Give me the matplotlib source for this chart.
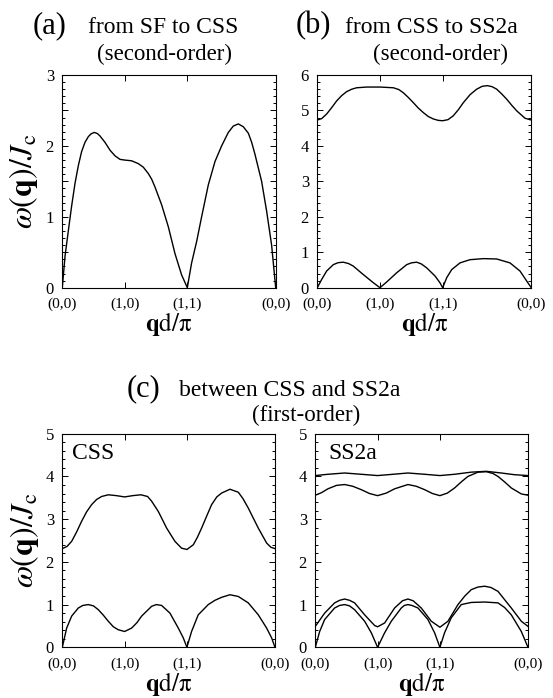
import numpy as np
import matplotlib
matplotlib.use('Agg')
import matplotlib.pyplot as plt
from matplotlib.ticker import MultipleLocator, FuncFormatter

plt.rcParams['font.family'] = ['Liberation Serif', 'DejaVu Serif']
plt.rcParams['mathtext.fontset'] = 'stix'

# path (0,0) -> (1,0) -> (1,1) -> (0,0), length along path
path_ticks = [0, 1, 2, 2 + np.sqrt(2)]
path_labels = ['(0,0)', '(1,0)', '(1,1)', '(0,0)']

# (a) SF -> CSS, second-order
a_x = [0, 0.043, 0.096, 0.149, 0.203, 0.256, 0.309, 0.363, 0.416, 0.46, 0.512, 0.56, 0.603,
       0.683, 0.763, 0.843, 0.923, 1.0, 1.109, 1.216, 1.296, 1.376, 1.43, 1.483, 1.589, 1.696,
       1.803, 1.909, 2.0, 2.069, 2.149, 2.229, 2.336, 2.443, 2.549, 2.656, 2.736, 2.816,
       2.896, 2.976, 3.03, 3.083, 3.189, 3.269, 3.349, 3.414]
a_w = [0, 0.44, 0.80, 1.15, 1.47, 1.72, 1.92, 2.05, 2.13, 2.17, 2.19, 2.175, 2.14,
       2.05, 1.94, 1.86, 1.81, 1.80, 1.79, 1.75, 1.70, 1.61, 1.53, 1.42, 1.17, 0.86,
       0.48, 0.18, 0, 0.35, 0.65, 1.00, 1.45, 1.78, 2.00, 2.19, 2.28, 2.31,
       2.27, 2.18, 2.05, 1.88, 1.50, 1.08, 0.60, 0]

# (b) CSS -> SS2a, second-order
b_up_x = [0, 0.07, 0.149, 0.23, 0.309, 0.39, 0.468, 0.55, 0.628, 0.787, 1.0, 1.213, 1.30,
          1.372, 1.45, 1.532, 1.61, 1.691, 1.77, 1.851, 1.93, 2.0, 2.085, 2.170, 2.25, 2.330,
          2.44, 2.543, 2.63, 2.713, 2.79, 2.862, 2.94, 3.021, 3.10, 3.181, 3.314, 3.414]
b_up_w = [4.73, 4.77, 4.90, 5.08, 5.27, 5.42, 5.53, 5.60, 5.64, 5.66, 5.66, 5.64, 5.59,
          5.50, 5.37, 5.22, 5.07, 4.94, 4.83, 4.76, 4.72, 4.71, 4.74, 4.85, 5.02, 5.22,
          5.45, 5.60, 5.68, 5.70, 5.67, 5.60, 5.47, 5.32, 5.15, 4.99, 4.78, 4.73]
b_lo_x = [0, 0.069, 0.149, 0.255, 0.33, 0.415, 0.50, 0.574, 0.734, 0.894, 1.0, 1.106, 1.266,
          1.426, 1.50, 1.585, 1.66, 1.745, 1.878, 1.957, 2.0, 2.064, 2.144, 2.277, 2.436,
          2.649, 2.862, 3.074, 3.234, 3.340, 3.414]
b_lo_w = [0, 0.23, 0.47, 0.65, 0.705, 0.72, 0.68, 0.61, 0.37, 0.14, 0, 0.16, 0.42,
          0.65, 0.70, 0.72, 0.67, 0.56, 0.33, 0.14, 0, 0.28, 0.51, 0.70, 0.79,
          0.82, 0.81, 0.70, 0.47, 0.19, 0]

# (c) first-order, CSS side
css_up_x = [0, 0.075, 0.150, 0.23, 0.310, 0.39, 0.471, 0.55, 0.631, 0.738, 0.87, 1.0, 1.13,
            1.262, 1.369, 1.434, 1.541, 1.675, 1.808, 1.915, 2.0, 2.103, 2.17, 2.236, 2.32,
            2.397, 2.48, 2.557, 2.691, 2.825, 2.90, 2.985, 3.146, 3.280, 3.35, 3.414]
css_up_w = [2.31, 2.36, 2.48, 2.70, 2.95, 3.17, 3.34, 3.46, 3.53, 3.57, 3.55, 3.52, 3.55,
            3.57, 3.53, 3.42, 3.18, 2.79, 2.48, 2.32, 2.29, 2.40, 2.58, 2.79, 3.08,
            3.34, 3.52, 3.61, 3.70, 3.63, 3.48, 3.26, 2.79, 2.44, 2.34, 2.31]
css_lo_x = [0, 0.070, 0.150, 0.257, 0.33, 0.417, 0.50, 0.578, 0.66, 0.738, 0.82, 0.899, 1.0,
            1.113, 1.20, 1.273, 1.434, 1.51, 1.594, 1.728, 1.862, 1.942, 2.0, 2.075, 2.182,
            2.343, 2.45, 2.557, 2.691, 2.825, 2.985, 3.146, 3.280, 3.360, 3.414]
css_lo_w = [0, 0.45, 0.73, 0.92, 0.98, 1.00, 0.97, 0.88, 0.75, 0.61, 0.48, 0.41, 0.37,
            0.45, 0.58, 0.73, 0.96, 1.00, 0.98, 0.80, 0.45, 0.22, 0, 0.37, 0.76,
            1.00, 1.10, 1.17, 1.23, 1.19, 1.04, 0.76, 0.45, 0.22, 0]

# (c) first-order, SS2a side
ss_b1_x = [0, 0.203, 0.471, 0.738, 1.0, 1.247, 1.487, 1.755, 2.0, 2.236, 2.504, 2.745, 2.985,
           3.199, 3.414]
ss_b1_w = [4.02, 4.05, 4.08, 4.05, 4.02, 4.05, 4.08, 4.05, 4.02, 4.05, 4.10, 4.12, 4.08,
           4.04, 4.02]
ss_b2_x = [0, 0.10, 0.203, 0.34, 0.471, 0.60, 0.738, 0.87, 1.0, 1.14, 1.273, 1.487, 1.62,
           1.755, 1.88, 2.0, 2.12, 2.236, 2.35, 2.450, 2.611, 2.745, 2.85, 2.932, 3.04,
           3.146, 3.307, 3.414]
ss_b2_w = [3.56, 3.62, 3.71, 3.79, 3.81, 3.77, 3.69, 3.60, 3.55, 3.61, 3.71, 3.81, 3.77,
           3.69, 3.60, 3.55, 3.61, 3.73, 3.88, 4.00, 4.10, 4.11, 4.07, 4.00, 3.87,
           3.73, 3.59, 3.56]
ss_b3_x = [0, 0.150, 0.310, 0.39, 0.471, 0.55, 0.631, 0.792, 0.952, 1.0, 1.113, 1.273, 1.40,
           1.487, 1.57, 1.701, 1.862, 2.0, 2.129, 2.290, 2.40, 2.504, 2.61, 2.718, 2.82,
           2.932, 3.146, 3.307, 3.414]
ss_b3_w = [0.49, 0.80, 1.04, 1.10, 1.13, 1.10, 1.04, 0.76, 0.51, 0.48, 0.57, 0.92, 1.09,
           1.13, 1.09, 0.92, 0.61, 0.47, 0.61, 1.00, 1.20, 1.35, 1.41, 1.43, 1.40,
           1.31, 0.92, 0.61, 0.49]
ss_b4_x = [0, 0.070, 0.150, 0.310, 0.39, 0.471, 0.55, 0.631, 0.792, 0.899, 1.0, 1.113, 1.220,
           1.380, 1.43, 1.487, 1.55, 1.648, 1.808, 1.915, 2.0, 2.075, 2.182, 2.343, 2.504,
           2.718, 2.932, 3.04, 3.146, 3.307, 3.414]
ss_b4_w = [0, 0.37, 0.65, 0.92, 0.98, 1.00, 0.97, 0.88, 0.61, 0.34, 0, 0.34, 0.61,
           0.92, 0.98, 1.00, 0.98, 0.92, 0.65, 0.34, 0, 0.34, 0.69, 1.00, 1.05,
           1.06, 1.04, 0.93, 0.76, 0.37, 0]

W, H = 553, 698
fig = plt.figure(figsize=(W / 100, H / 100), dpi=100)


def box(x0, y0, x1, y1):
    # pixel box (top-left origin) -> figure fraction rect
    return [x0 / W, 1 - y1 / H, (x1 - x0) / W, (y1 - y0) / H]


ylab = r'$\omega(\mathbf{q})/J_{\mathrm{c}}$'
xlab = r'$\mathbf{q}\mathrm{d/\pi}$'


def style(ax, ymax, major, minor, ylabel=True):
    ax.set_xlim(path_ticks[0], path_ticks[-1])
    ax.set_ylim(0, ymax)
    ax.set_xticks(path_ticks)
    ax.set_xticklabels(path_labels, fontsize=11)
    ax.yaxis.set_major_locator(MultipleLocator(major))
    ax.yaxis.set_minor_locator(MultipleLocator(minor))
    ax.yaxis.set_major_formatter(FuncFormatter(
        lambda v, p: '%d' % round(v) if abs(v - round(v)) < 1e-6 else ''))
    ax.tick_params(axis='both', which='both', direction='in', top=True, right=True,
                   width=0.7)
    ax.tick_params(axis='x', which='major', length=4, pad=7)
    ax.tick_params(axis='y', which='major', length=4, pad=6, labelsize=12)
    ax.tick_params(axis='y', which='minor', length=2)
    for s in ax.spines.values():
        s.set_linewidth(0.8)
    ax.set_xlabel(xlab, fontsize=18, va='baseline')
    ax.xaxis.set_label_coords(0.5, -0.205)
    if ylabel:
        ax.set_ylabel(ylab, fontsize=23, va='center')
        ax.yaxis.set_label_coords(-0.18, 0.5)


lw = 1.0
ax_a = fig.add_axes(box(62.3, 75, 275.7, 287.7))
ax_a.plot(a_x, a_w, color='black', lw=lw)
style(ax_a, 3, 0.5, 0.1)

ax_b = fig.add_axes(box(317.3, 75, 531.3, 287.7))
ax_b.plot(b_up_x, b_up_w, color='black', lw=lw)
ax_b.plot(b_lo_x, b_lo_w, color='black', lw=lw)
style(ax_b, 6, 1, 0.2, ylabel=False)

ax_c1 = fig.add_axes(box(62.3, 433.7, 275, 647.3))
ax_c1.plot(css_up_x, css_up_w, color='black', lw=lw)
ax_c1.plot(css_lo_x, css_lo_w, color='black', lw=lw)
style(ax_c1, 5, 1, 0.2)
ax_c1.text(0.045, 0.955, 'CSS', transform=ax_c1.transAxes, fontsize=17, va='top', ha='left')

ax_c2 = fig.add_axes(box(315.3, 433.7, 528, 647.3))
for xs, ws in [(ss_b1_x, ss_b1_w), (ss_b2_x, ss_b2_w), (ss_b3_x, ss_b3_w), (ss_b4_x, ss_b4_w)]:
    ax_c2.plot(xs, ws, color='black', lw=lw)
style(ax_c2, 5, 1, 0.2, ylabel=False)
ax_c2.text(0.062, 0.955, 'SS2a', transform=ax_c2.transAxes, fontsize=17, va='top', ha='left')


def ftext(px, py, s, **kw):
    fig.text(px / W, 1 - py / H, s, **kw)


# panel headings
ftext(33, 33, '(a)', fontsize=22, va='baseline', ha='left')
ftext(88, 33, 'from SF to CSS', fontsize=17, va='baseline', ha='left')
ftext(164, 60, '(second-order)', fontsize=16.5, va='baseline', ha='center')

ftext(296, 33, '(b)', fontsize=22, va='baseline', ha='left')
ftext(345, 33, 'from CSS to SS2a', fontsize=17, va='baseline', ha='left')
ftext(440, 60, '(second-order)', fontsize=16.5, va='baseline', ha='center')

ftext(127, 396, '(c)', fontsize=22, va='baseline', ha='left')
ftext(179, 396, 'between CSS and SS2a', fontsize=17, va='baseline', ha='left')
ftext(306, 421, '(first-order)', fontsize=16.5, va='baseline', ha='center')

fig.savefig('out.png', dpi=100)
